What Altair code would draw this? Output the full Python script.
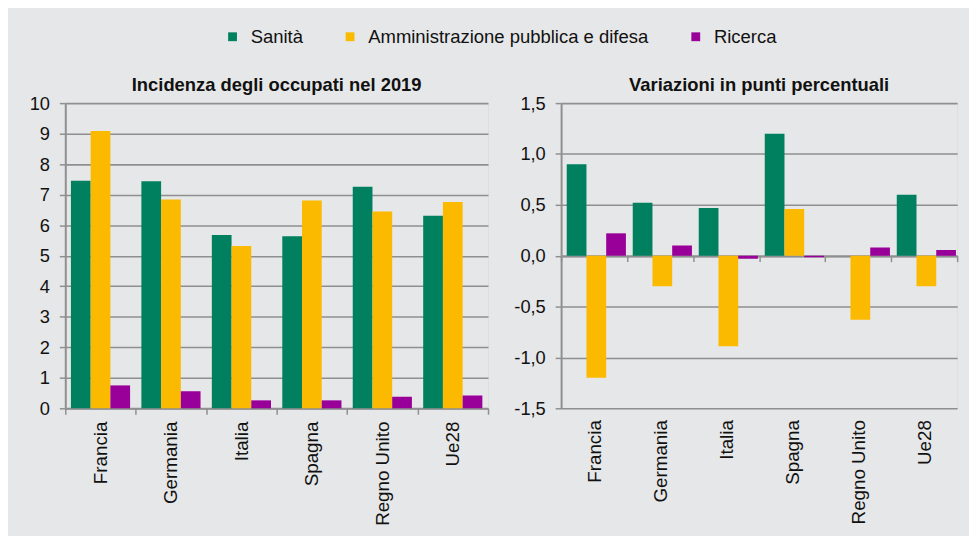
import altair as alt
import pandas as pd

paesi = ["Francia", "Germania", "Italia", "Spagna", "Regno Unito", "Ue28"]
settori = ["Sanità", "Amministrazione pubblica e difesa", "Ricerca"]
colori = ["#00805F", "#FBBA00", "#990099"]

# Incidenza degli occupati nel 2019
incidenza_sanita = [7.46, 7.44, 5.68, 5.64, 7.26, 6.31]
incidenza_amm = [9.09, 6.84, 5.32, 6.81, 6.45, 6.76]
incidenza_ricerca = [0.75, 0.56, 0.26, 0.26, 0.38, 0.42]

# Variazioni in punti percentuali
var_sanita = [0.90, 0.52, 0.47, 1.20, 0.00, 0.60]
var_amm = [-1.20, -0.30, -0.89, 0.46, -0.63, -0.30]
var_ricerca = [0.22, 0.10, -0.03, -0.015, 0.08, 0.055]

y_ticks_sx = [0, 1, 2, 3, 4, 5, 6, 7, 8, 9, 10]
y_ticks_dx = [-1.5, -1.0, -0.5, 0.0, 0.5, 1.0, 1.5]


def long_df(a, b, c):
    return pd.DataFrame({
        "Paese": paesi * 3,
        "Settore": [s for s in settori for _ in paesi],
        "Valore": a + b + c,
    })


df_sx = long_df(incidenza_sanita, incidenza_amm, incidenza_ricerca)
df_dx = long_df(var_sanita, var_amm, var_ricerca)

GRID = "#8f8f8f"
FONT = "Liberation Sans"
H = 309

color = alt.Color(
    "Settore:N",
    sort=settori,
    scale=alt.Scale(domain=settori, range=colori),
    legend=alt.Legend(
        title=None, orient="none", direction="horizontal",
        legendX=160, legendY=-77,
        symbolType="square", symbolSize=80, symbolStrokeWidth=0,
        labelFontSize=18.7, labelFont=FONT, labelColor="#111111",
        labelLimit=0, labelOffset=9, columnPadding=38,
    ),
)

xoff = alt.XOffset("Settore:N", sort=settori,
                   scale=alt.Scale(paddingInner=0, paddingOuter=0.286))


def x_enc(offset, label_pad):
    return alt.X(
        "Paese:N", sort=paesi, title=None,
        scale=alt.Scale(paddingInner=0, paddingOuter=0),
        axis=alt.Axis(
            labelAngle=-90, tickBand="extent", tickSize=6, tickColor=GRID,
            tickWidth=1.5, domainColor=GRID, domainWidth=2,
            labelPadding=label_pad, offset=offset,
            labelFontSize=19, labelFont=FONT, labelColor="#111111",
        ),
    )


def y_axis(**kw):
    return alt.Axis(grid=True, gridColor=GRID, gridWidth=1.6,
                    domainColor=GRID, domainWidth=2,
                    tickColor=GRID, tickWidth=1.5, tickSize=6,
                    labelPadding=10, labelFontSize=18.5, labelFont=FONT,
                    labelColor="#111111", **kw)


def titolo(testo):
    return alt.TitleParams(testo, fontSize=18.6, fontWeight="bold", font=FONT,
                           anchor="middle", frame="group", offset=0,
                           color="#111111")


sx = alt.Chart(df_sx).mark_bar().encode(
    x=x_enc(0, 7),
    xOffset=xoff,
    y=alt.Y("Valore:Q", title=None,
            scale=alt.Scale(domain=[0, 10], nice=False, zero=True),
            axis=y_axis(values=y_ticks_sx, format="d")),
    color=color,
).properties(width=428, height=H, title=titolo("Incidenza degli occupati nel 2019"))

dx = alt.Chart(df_dx).mark_bar().encode(
    x=x_enc(-H / 2, 160),
    xOffset=xoff,
    y=alt.Y("Valore:Q", title=None,
            scale=alt.Scale(domain=[-1.5, 1.5], nice=False, zero=True),
            axis=y_axis(values=y_ticks_dx,
                        labelExpr="replace(replace(format(datum.value, '.1f'), '.', ','), '\u2212', '-')")),
    color=color,
).properties(width=401, height=H, title=titolo("Variazioni in punti percentuali"))

chart = alt.hconcat(sx, dx, spacing=23).properties(
    background="#e6e7e8",
    padding={"left": 20, "right": 10, "top": 16, "bottom": 6},
).configure_view(stroke=None).configure(font=FONT)

chart.save("out.html", embed_options={"renderer": "svg", "actions": False})
